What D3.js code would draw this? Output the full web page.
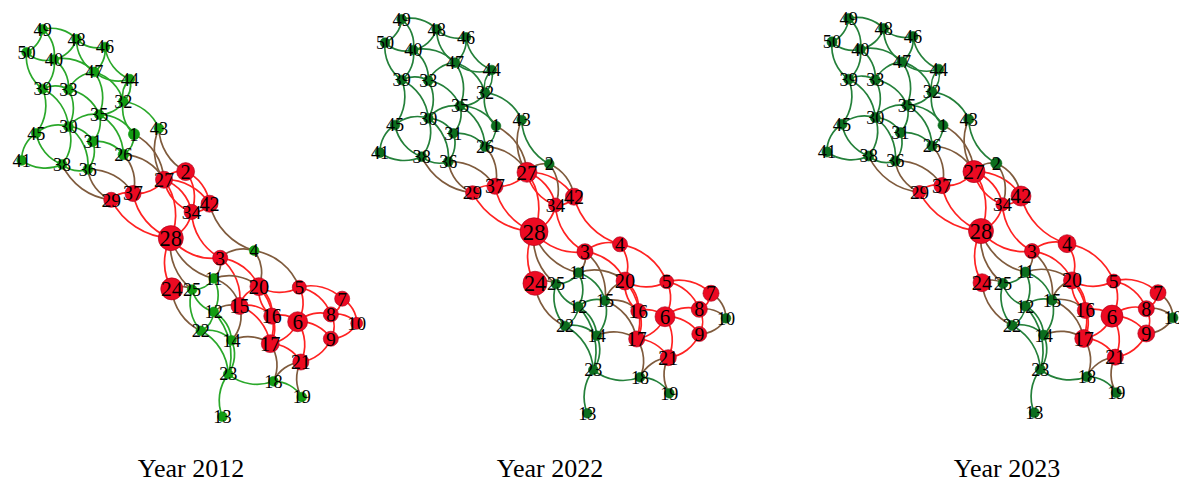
<!DOCTYPE html>
<html>
<head>
<meta charset="utf-8">
<script src="https://cdn.jsdelivr.net/npm/d3@7"></script>
<style>
  body { margin: 0; background: #fff; }
  svg { display: block; }
</style>
</head>
<body>
<svg id="chart" width="1179" height="482"></svg>
<script>
// Station network: node ids and their layout coordinates (east / south units)
const nodeIds   = [49,48,46,50,40,47,44,39,33,32,35,45,30,43,31,1,41,26,38,36,2,27,29,37,42,34,28,4,3,11,24,25,20,5,7,15,12,16,6,8,10,22,14,17,9,21,23,18,19,13];
const nodeEast  = [21.7,56.7,86,5,33.3,75,111.7,21.7,48.3,105,80,15,48.3,141.7,73.3,116,0,105,41.7,68.3,169.3,147,92.5,115,194,175.5,154,240,205,198.3,155,176,245,286.7,331,225,198.3,258.3,285,319.3,346,185,216.7,256.7,319.3,288.3,213.3,260,289.3,207.3];
const nodeSouth = [0,10,18,23.4,30.7,43.4,50.7,60.7,61.4,73.4,86.7,105.7,99,100.7,114,106.7,133.4,127.4,137.4,142.4,144.7,153,173.4,167,177.4,185.7,212.4,225,232.4,253.4,264,264.7,261.7,262.4,274,281.4,287.4,291.7,297.4,290,299,306.7,316.4,319.7,314.7,338.4,350.7,358,374,394];

// Directed links (source, target)
const links = [
  [49,48],[49,50],[49,40],[46,48],[48,40],[47,48],[46,47],[44,46],[40,50],[39,50],
  [40,39],[40,33],[40,47],[44,47],[33,47],[47,35],[47,32],[44,32],[32,44],[39,33],
  [39,45],[39,30],[33,30],[33,35],[30,35],[35,31],[32,35],[35,1],[35,26],[1,32],
  [32,43],[41,45],[45,30],[38,45],[30,31],[30,36],[30,38],[31,36],[31,26],[38,41],
  [36,38],[1,26],[29,38],[29,36],[36,37],[26,37],[26,27],[1,27],[27,43],[2,43],
  [29,37],[27,37],[27,2],[27,34],[34,27],[27,42],[27,28],[2,42],[2,34],[28,37],
  [28,29],[34,28],[3,34],[4,42],[42,34],[3,28],[24,28],[11,28],[25,28],[3,4],
  [3,20],[3,11],[3,15],[4,20],[4,5],[11,20],[11,25],[11,12],[11,15],[12,25],
  [22,25],[24,25],[22,24],[12,22],[12,14],[12,15],[15,14],[15,20],[15,17],[15,16],
  [5,20],[20,16],[16,20],[20,17],[5,7],[5,6],[5,8],[7,8],[7,10],[16,6],
  [16,17],[6,8],[6,9],[6,17],[6,21],[8,10],[8,9],[10,9],[9,21],[14,17],
  [17,21],[17,18],[18,21],[19,21],[22,14],[22,23],[14,23],[12,23],[18,23],[13,23],
  [18,19]
];

// Red (critical) nodes per year with their weight; all other nodes are green
const red2012 = [[28,80],[24,62],[20,41],[15,37],[16,33],[6,51],[17,41],[27,37],[2,41],[42,37],[37,33],[29,29],[34,29],[3,29],[5,25],[7,29],[8,29],[10,18],[9,29],[21,33]];
const red2022 = [[28,100],[24,74],[27,51],[42,37],[37,33],[29,25],[34,25],[3,33],[4,29],[20,41],[5,25],[7,33],[16,29],[6,51],[8,33],[9,29],[17,33],[21,33]];
const red2023 = [[27,62],[42,51],[28,80],[24,41],[37,33],[29,22],[34,22],[3,29],[4,41],[20,37],[5,25],[7,33],[16,33],[6,62],[8,33],[9,37],[17,41],[21,33]];
// Green nodes with a weight above the default
const green2012 = [[1,16],[26,14],[31,14]];
const green2022 = [];
const green2023 = [[2,16]];
const greenDefault = [12, 12, 13];

const yearLabels = ["Year 2012", "Year 2022", "Year 2023"];

const panels = [
  { title: yearLabels[0], red: red2012, green: green2012, gdef: greenDefault[0],
    xr: [21.7, 356.7], yr: [29.3, 416.7], tx: 191,
    greenFill: "#129c12", greenEdge: "#2aa82a" },
  { title: yearLabels[1], red: red2022, green: green2022, gdef: greenDefault[1],
    xr: [380, 726], yr: [19.3, 413.3], tx: 550,
    greenFill: "#0b6e1e", greenEdge: "#24803a" },
  { title: yearLabels[2], red: red2023, green: green2023, gdef: greenDefault[2],
    xr: [827, 1173], yr: [18.5, 412.8], tx: 1007,
    greenFill: "#0b6e1e", greenEdge: "#24803a" }
];

const svg = d3.select("#chart");
const rScale = d3.scaleSqrt().domain([0, 100]).range([0, 14]);
const RED_FILL = "#ec0a22", RED_STROKE = "#a8001a", RED_EDGE = "#ff2222", MIX_EDGE = "#7f5b3d";

function arcPath(s, t) {
  const r = Math.hypot(t.x - s.x, t.y - s.y);
  return `M${s.x},${s.y}A${r},${r} 0 0,1 ${t.x},${t.y}`;
}

panels.forEach(p => {
  const x = d3.scaleLinear().domain([0, 346]).range(p.xr);
  const y = d3.scaleLinear().domain([0, 394]).range(p.yr);
  const redMap = new Map(p.red);
  const greenMap = new Map(p.green);

  const nodes = nodeIds.map((id, i) => {
    const isRed = redMap.has(id);
    const w = isRed ? redMap.get(id) : (greenMap.has(id) ? greenMap.get(id) : p.gdef);
    return { id, x: x(nodeEast[i]), y: y(nodeSouth[i]), red: isRed, r: rScale(w) };
  });
  const byId = new Map(nodes.map(n => [n.id, n]));

  const g = svg.append("g");

  g.append("g").selectAll("path").data(links).join("path")
    .attr("d", d => arcPath(byId.get(d[0]), byId.get(d[1])))
    .attr("fill", "none")
    .attr("stroke-width", 1.7)
    .attr("stroke", d => {
      const a = byId.get(d[0]).red, b = byId.get(d[1]).red;
      if (a && b) return RED_EDGE;
      if (!a && !b) return p.greenEdge;
      return MIX_EDGE;
    });

  g.append("g").selectAll("circle").data(nodes).join("circle")
    .attr("cx", d => d.x).attr("cy", d => d.y).attr("r", d => d.r)
    .attr("fill", d => d.red ? RED_FILL : p.greenFill)
    .attr("stroke", d => d.red ? RED_STROKE : p.greenFill)
    .attr("stroke-opacity", 0.6)
    .attr("stroke-width", 1);

  g.append("g").selectAll("text").data(nodes).join("text")
    .attr("x", d => d.x).attr("y", d => d.y)
    .attr("dy", "0.35em")
    .attr("text-anchor", "middle")
    .attr("font-family", "'Liberation Serif', 'Times New Roman', serif")
    .attr("font-size", d => (15.5 + 0.55 * d.r).toFixed(1) + "px")
    .attr("fill", "#000")
    .text(d => d.id);

  svg.append("text")
    .attr("x", p.tx).attr("y", 477)
    .attr("text-anchor", "middle")
    .attr("font-family", "'Liberation Serif', 'Times New Roman', serif")
    .attr("font-size", "26px")
    .attr("fill", "#000")
    .text(p.title);
});
</script>
</body>
</html>
